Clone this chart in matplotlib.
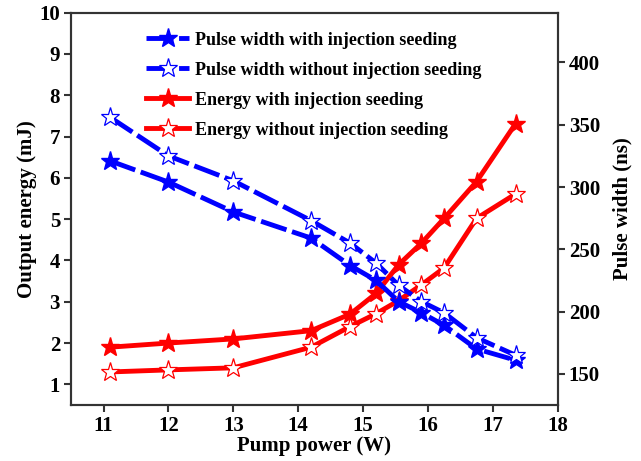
import matplotlib
matplotlib.use("Agg")
import matplotlib.pyplot as plt

pump = [11.1, 12, 13, 14.2, 14.8, 15.2, 15.55, 15.9, 16.25, 16.75, 17.35]
pw_with = [321, 304, 280, 259, 237, 225, 208, 199, 189, 170, 161]
pw_without = [356, 325, 305, 273, 255, 239, 221, 208, 199, 179, 165]
en_with = [1.9, 2.0, 2.1, 2.3, 2.7, 3.2, 3.9, 4.42, 5.02, 5.91, 7.31]
en_without = [1.3, 1.35, 1.4, 1.9, 2.4, 2.71, 3.03, 3.41, 3.82, 5.02, 5.61]

xticks = [11, 12, 13, 14, 15, 16, 17, 18]
yticks_left = [1, 2, 3, 4, 5, 6, 7, 8, 9, 10]
yticks_right = [150, 200, 250, 300, 350, 400]

plt.rcParams['font.family'] = ['Liberation Serif', 'DejaVu Serif']
plt.rcParams['font.weight'] = 'bold'
plt.rcParams['font.size'] = 15

fig = plt.figure(figsize=(6.41, 4.61), dpi=100)
ax1 = fig.add_axes([0.111, 0.1215, 0.759, 0.851])
ax2 = ax1.twinx()

lw = 3.5
ms = 14
h3, = ax1.plot(pump, en_with, color='red', lw=lw, marker='*', ms=ms,
               mfc='red', mec='red', label='Energy with injection seeding')
h4, = ax1.plot(pump, en_without, color='red', lw=lw, marker='*', ms=ms,
               mfc='white', mec='red', mew=0.9, label='Energy without injection seeding')
h1, = ax2.plot(pump, pw_with, color='blue', lw=lw, marker='*', ms=ms,
               mfc='blue', mec='blue', dashes=(5.5, 1.2),
               label='Pulse width with injection seeding')
h2, = ax2.plot(pump, pw_without, color='blue', lw=lw, marker='*', ms=ms,
               mfc='white', mec='blue', mew=0.9, dashes=(5.5, 1.2),
               label='Pulse width without injection seeding')

ax1.set_xlim(10.5, 18)
ax1.set_ylim(0.5, 10)
ax2.set_ylim(125, 440)
ax1.set_xticks(xticks)
ax1.set_yticks(yticks_left)
ax2.set_yticks(yticks_right)

ax1.set_xlabel('Pump power (W)', fontweight='bold', labelpad=0)
ax1.set_ylabel('Output energy (mJ)', fontweight='bold', labelpad=2)
ax2.set_ylabel('Pulse width (ns)', fontweight='bold', labelpad=9)

for ax in (ax1, ax2):
    for s in ax.spines.values():
        s.set_linewidth(1.5)
        s.set_color('#333333')
    ax.tick_params(direction='out', width=1.5, length=5, color='#333333', pad=3)
ax1.tick_params(top=False, right=False)
ax2.tick_params(top=False, left=False)

leg = ax2.legend(handles=[h1, h2, h3, h4], loc='upper left', bbox_to_anchor=(0.139, 0.97),
                 frameon=False, handlelength=2.4, handletextpad=0.3, labelspacing=0.72,
                 borderaxespad=0.0, prop={'weight': 'bold', 'size': 13})

fig.savefig('out.png', dpi=100)
